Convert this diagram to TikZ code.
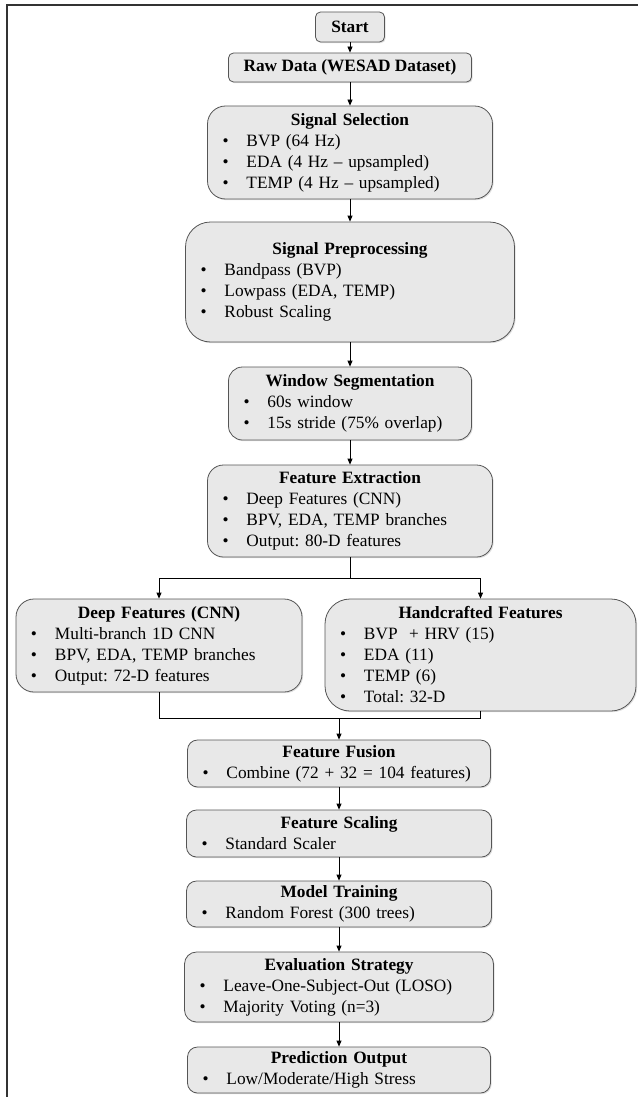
\documentclass[tikz,border=0pt]{standalone}
\usepackage{fontspec}
\setmainfont{Liberation Serif}
\frenchspacing
\usetikzlibrary{arrows.meta,shadows}
\definecolor{boxfill}{RGB}{232,232,232}
\definecolor{boxline}{RGB}{85,85,85}
\newcommand{\stitle}[1]{\makebox[\linewidth][c]{\textbf{#1}}}
\newcommand{\sitem}[1]{\\\hspace*{15pt}\makebox[24pt][l]{\textbullet}#1}
\begin{document}
\begin{tikzpicture}[x=1pt,y=-1pt,
  stage/.style={draw=boxline,line width=0.8pt,fill=boxfill,align=left,inner xsep=0pt,inner ysep=4pt,
    font={\fontsize{17.3pt}{21pt}\selectfont},drop shadow={shadow xshift=1.2pt,shadow yshift=-1.2pt,opacity=0.25}},
  flow/.style={-{Triangle[length=6pt,width=5pt]},line width=0.8pt}]
\useasboundingbox (0,0) rectangle (638,1097);
\draw[line width=1.8pt,black!80] (7,1097) -- (7,5) -- (638,5);

\node[stage,align=center,font={\fontsize{17.3pt}{21pt}\selectfont\bfseries},minimum width=69pt,minimum height=30pt,rounded corners=5pt] (start) at (350,27) {Start};
\node[stage,align=center,font={\fontsize{17.3pt}{21pt}\selectfont\bfseries},minimum width=243pt,minimum height=29pt,rounded corners=5pt] (raw) at (350,67.5) {Raw Data (WESAD Dataset)};

\node[stage,text width=285pt,minimum height=93pt,rounded corners=18pt] (ss) at (350,152.5)
  {\stitle{Signal Selection}\sitem{BVP (64 Hz)}\sitem{EDA (4 Hz -- upsampled)}\sitem{TEMP (4 Hz -- upsampled)}};
\node[stage,text width=329pt,minimum height=120pt,rounded corners=25pt] (sp) at (350,282)
  {\stitle{Signal Preprocessing}\sitem{Bandpass (BVP)}\sitem{Lowpass (EDA, TEMP)}\sitem{Robust Scaling}};
\node[stage,text width=243pt,minimum height=73pt,rounded corners=14pt] (ws) at (350,403.5)
  {\stitle{Window Segmentation}\sitem{60s window}\sitem{15s stride (75\% overlap)}};
\node[stage,text width=285pt,minimum height=92pt,rounded corners=16pt] (fe) at (350,511)
  {\stitle{Feature Extraction}\sitem{Deep Features (CNN)}\sitem{BPV, EDA, TEMP branches}\sitem{Output: 80-D features}};

\node[stage,text width=286pt,minimum height=93pt,rounded corners=18pt] (deep) at (159,645.5)
  {\stitle{Deep Features (CNN)}\sitem{Multi-branch 1D CNN}\sitem{BPV, EDA, TEMP branches}\sitem{Output: 72-D features}};
\node[stage,text width=311pt,minimum height=112pt,rounded corners=25pt] (hand) at (480.5,655)
  {\stitle{Handcrafted Features}\sitem{BVP\ \ + HRV (15)}\sitem{EDA (11)}\sitem{TEMP (6)}\sitem{Total: 32-D}};

\node[stage,text width=303pt,minimum height=47pt,rounded corners=10pt] (fusion) at (339,763.5)
  {\stitle{Feature Fusion}\sitem{Combine (72 + 32 = 104 features)}};
\node[stage,text width=305pt,minimum height=47pt,rounded corners=10pt] (scale) at (339,833.5)
  {\stitle{Feature Scaling}\sitem{Standard Scaler}};
\node[stage,text width=305pt,minimum height=46pt,rounded corners=10pt] (train) at (339,904)
  {\stitle{Model Training}\sitem{Random Forest (300 trees)}};
\node[stage,text width=309pt,minimum height=70pt,rounded corners=12pt] (eval) at (339,987)
  {\stitle{Evaluation Strategy}\sitem{Leave-One-Subject-Out (LOSO)}\sitem{Majority Voting (n=3)}};
\node[stage,text width=303pt,minimum height=46pt,rounded corners=10pt] (pred) at (339,1070)
  {\stitle{Prediction Output}\sitem{Low/Moderate/High Stress}};

\draw[flow] (start.south) -- (raw.north);
\draw[flow] (raw.south) -- (ss.north);
\draw[flow] (ss.south) -- (sp.north);
\draw[flow] (sp.south) -- (ws.north);
\draw[flow] (ws.south) -- (fe.north);

\path (fe.south) ++(0,21) coordinate (split);
\draw[line width=0.8pt] (fe.south) -- (split);
\draw[flow] (split) -| (deep.north);
\draw[flow] (split) -| (hand.north);

\path (fusion.north) ++(0,-21) coordinate (merge);
\draw[line width=0.8pt] (deep.south) |- (merge) -| (hand.south);
\draw[flow] (merge) -- (fusion.north);

\draw[flow] (fusion.south) -- (scale.north);
\draw[flow] (scale.south) -- (train.north);
\draw[flow] (train.south) -- (eval.north);
\draw[flow] (eval.south) -- (pred.north);
\end{tikzpicture}
\end{document}
